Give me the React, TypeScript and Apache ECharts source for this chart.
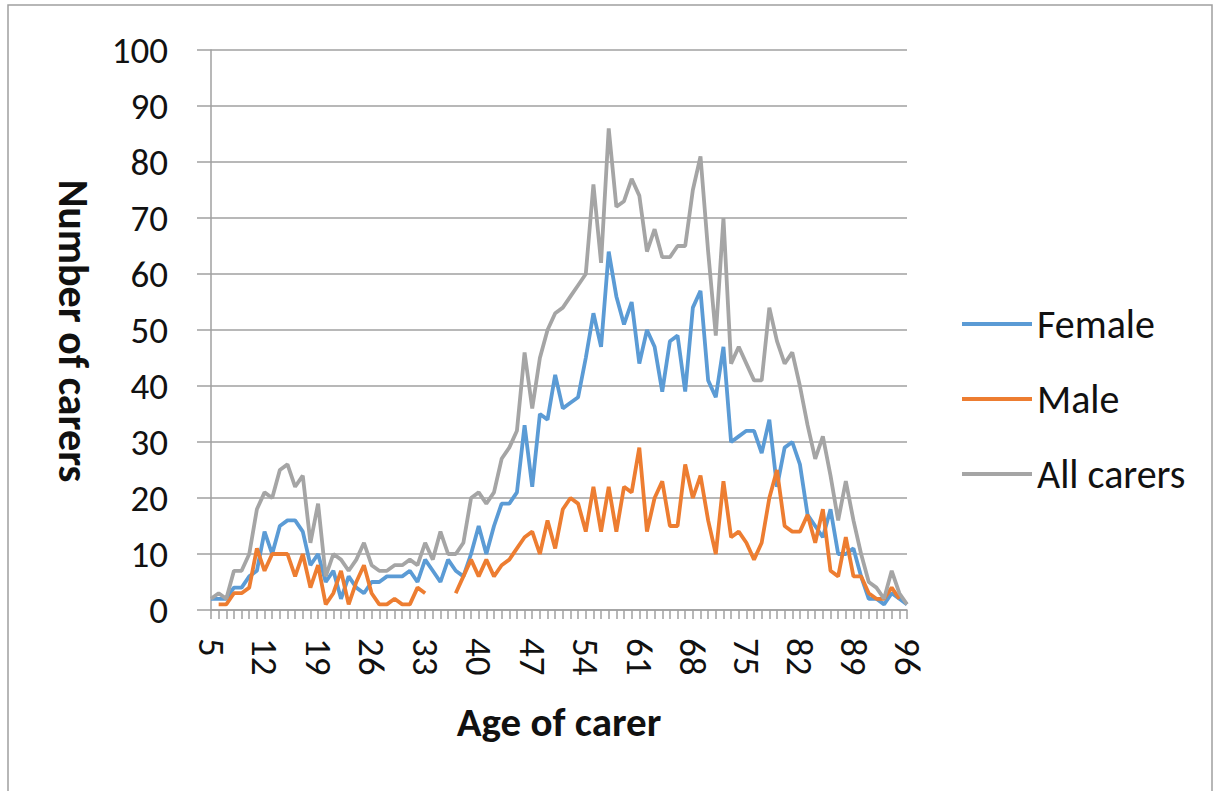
import React, { useEffect, useRef } from "react";
import * as echarts from "echarts";

const ages: string[] = [];
for (let a = 5; a <= 96; a++) ages.push(String(a));

// values for ages 5..96
const female = [
  2, 2, 2, 4, 4, 6, 7, 14, 10, 15, 16, 16, 14, 8, 10, 5, 7, 2, 6, 4, 3, 5, 5, 6, 6, 6, 7, 5, 9, 7,
  5, 9, 7, 6, 10, 15, 10, 15, 19, 19, 21, 33, 22, 35, 34, 42, 36, 37, 38, 45, 53, 47, 64, 56, 51, 55, 44, 50, 47, 39,
  48, 49, 39, 54, 57, 41, 38, 47, 30, 31, 32, 32, 28, 34, 22, 29, 30, 26, 17, 15, 13, 18, 10, 10, 11, 6, 2, 2, 1, 3,
  2, 1,
];

const male = [
  null, 1, 1, 3, 3, 4, 11, 7, 10, 10, 10, 6, 10, 4, 8, 1, 3, 7, 1, 5, 8, 3, 1, 1, 2, 1, 1, 4, 3, null,
  null, null, 3, 6, 9, 6, 9, 6, 8, 9, 11, 13, 14, 10, 16, 11, 18, 20, 19, 14, 22, 14, 22, 14, 22, 21, 29, 14, 20, 23,
  15, 15, 26, 20, 24, 16, 10, 23, 13, 14, 12, 9, 12, 20, 25, 15, 14, 14, 17, 12, 18, 7, 6, 13, 6, 6, 3, 2, 2, 4,
  2, null,
];

const allCarers = [
  2, 3, 2, 7, 7, 10, 18, 21, 20, 25, 26, 22, 24, 12, 19, 6, 10, 9, 7, 9, 12, 8, 7, 7, 8, 8, 9, 8, 12, 9,
  14, 10, 10, 12, 20, 21, 19, 21, 27, 29, 32, 46, 36, 45, 50, 53, 54, 56, 58, 60, 76, 62, 86, 72, 73, 77, 74, 64, 68, 63,
  63, 65, 65, 75, 81, 64, 49, 70, 44, 47, 44, 41, 41, 54, 48, 44, 46, 40, 33, 27, 31, 24, 16, 23, 16, 10, 5, 4, 2, 7,
  3, 1,
];

const yTicks = { min: 0, max: 100, interval: 10 };

const FONT = 'Carlito, Lato, "Open Sans", sans-serif';

export default function App() {
  const ref = useRef<HTMLDivElement>(null);
  useEffect(() => {
    if (!ref.current) return;
    const chart = echarts.init(ref.current, null, { renderer: "svg" });
    chart.setOption({
      animation: false,
      backgroundColor: "#ffffff",
      textStyle: { fontFamily: FONT },
      grid: { left: 211, right: 311, top: 50, bottom: 181, containLabel: false },
      legend: {
        orient: "vertical",
        left: 962,
        top: 304,
        padding: 0,
        itemWidth: 70,
        itemHeight: 4,
        itemGap: 35,
        icon: "rect",
        textStyle: { fontSize: 40, color: "#111", fontFamily: FONT, lineHeight: 40 },
        data: ["Female", "Male", "All carers"],
      },
      xAxis: {
        type: "category",
        data: ages,
        boundaryGap: false,
        axisLine: { lineStyle: { color: "#a0a0a0", width: 1.5 } },
        axisTick: { show: true, interval: 0, length: 9, lineStyle: { color: "#a0a0a0", width: 1.5 } },
        axisLabel: {
          interval: 6,
          rotate: -90,
          fontSize: 37,
          color: "#111",
          margin: 28,
          fontFamily: FONT,
        },
        splitLine: { show: false },
      },
      yAxis: {
        type: "value",
        min: yTicks.min,
        max: yTicks.max,
        interval: yTicks.interval,
        axisLine: { show: true, lineStyle: { color: "#a0a0a0", width: 1.5 } },
        axisTick: { show: true, length: 14, lineStyle: { color: "#a0a0a0", width: 1.5 } },
        axisLabel: { fontSize: 37, color: "#111", margin: 43, fontFamily: FONT },
        splitLine: { show: true, lineStyle: { color: "#a0a0a0", width: 1.5 } },
      },
      graphic: [
        {
          type: "rect",
          shape: { x: 8, y: 5, width: 1204, height: 820 },
          style: { fill: "none", stroke: "#a0a0a0", lineWidth: 1.5 },
          silent: true,
        },
        {
          type: "text",
          x: 73,
          y: 331,
          rotation: -Math.PI / 2,
          style: {
            text: "Number of carers",
            font: `bold 42px ${FONT}`,
            fill: "#111",
            textAlign: "center",
            textVerticalAlign: "middle",
          },
        },
        {
          type: "text",
          x: 559,
          y: 722,
          style: {
            text: "Age of carer",
            font: `bold 41px ${FONT}`,
            fill: "#111",
            textAlign: "center",
            textVerticalAlign: "middle",
          },
        },
      ],
      series: [
        {
          name: "Female",
          type: "line",
          data: female,
          symbol: "none",
          lineStyle: { width: 3.8, color: "#5b9bd5" },
          itemStyle: { color: "#5b9bd5" },
        },
        {
          name: "Male",
          type: "line",
          data: male,
          symbol: "none",
          connectNulls: false,
          lineStyle: { width: 3.8, color: "#ed7d31" },
          itemStyle: { color: "#ed7d31" },
        },
        {
          name: "All carers",
          type: "line",
          data: allCarers,
          symbol: "none",
          lineStyle: { width: 3.8, color: "#a5a5a5" },
          itemStyle: { color: "#a5a5a5" },
        },
      ],
    });
    return () => chart.dispose();
  }, []);
  return (
    <div
      ref={ref}
      style={{ position: "fixed", left: 0, top: 0, width: 1218, height: 791, background: "#fff" }}
    />
  );
}
